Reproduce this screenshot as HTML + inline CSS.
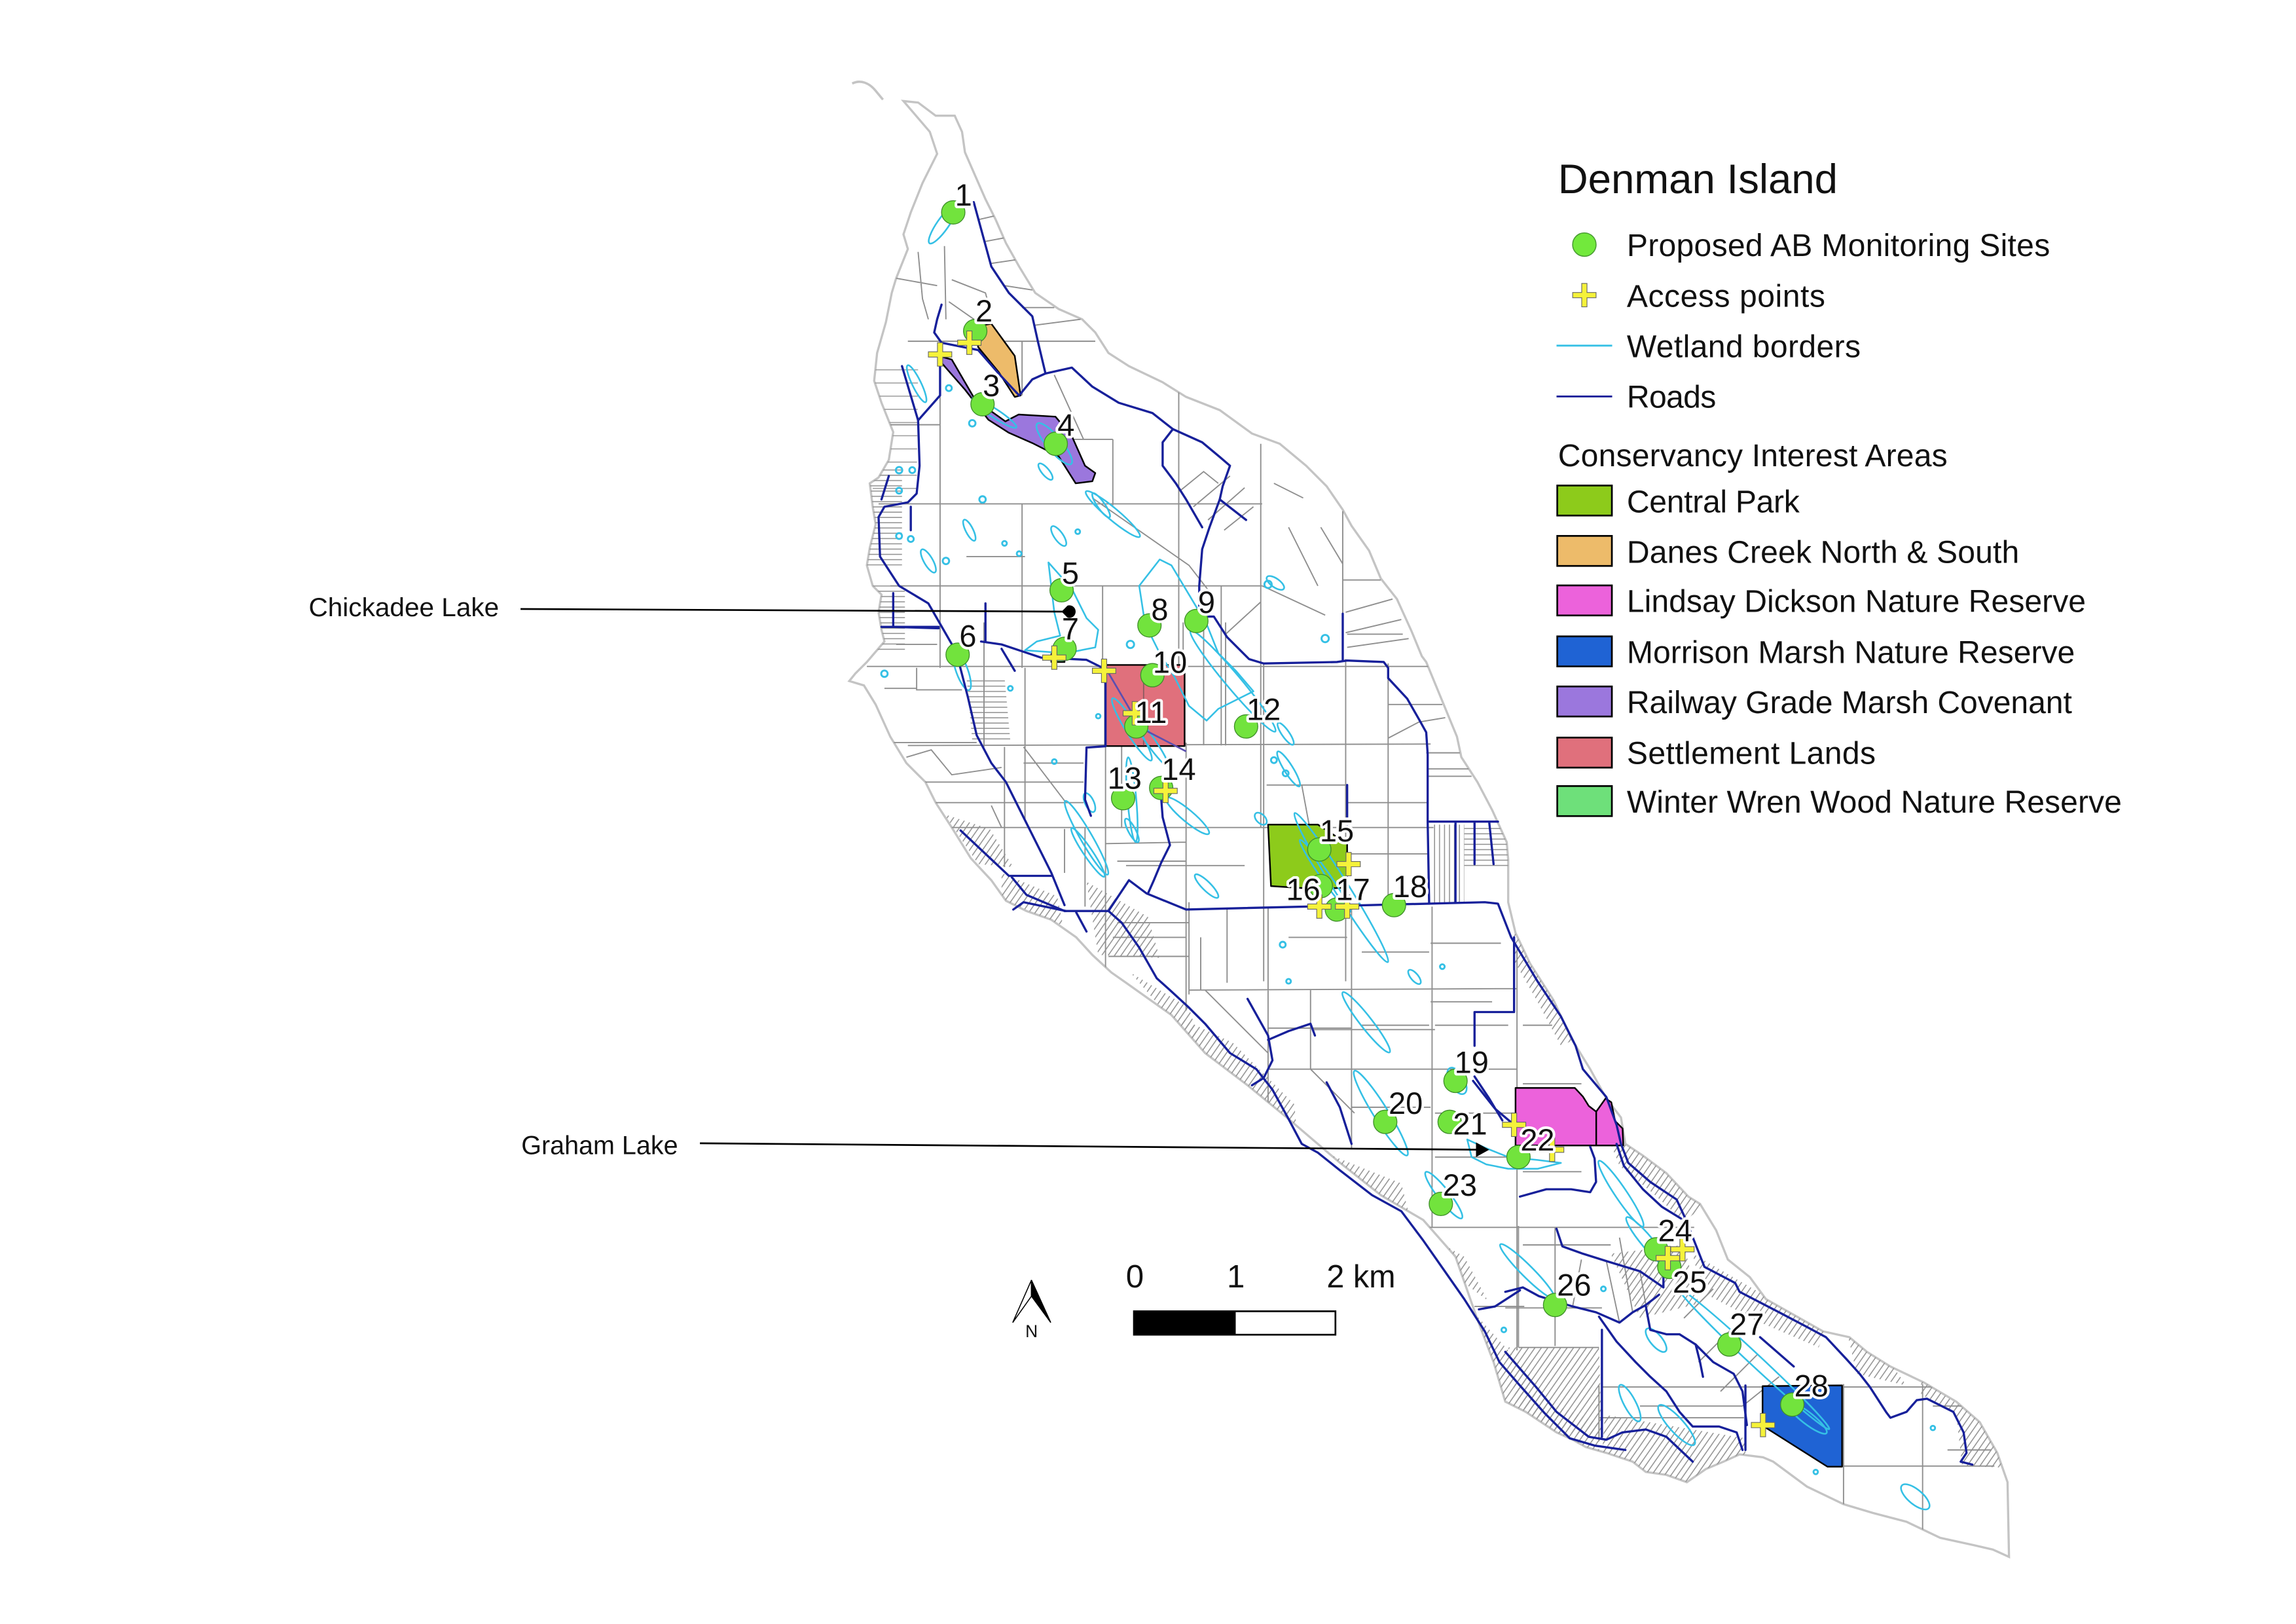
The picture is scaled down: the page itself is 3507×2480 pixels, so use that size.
<!DOCTYPE html>
<html><head><meta charset="utf-8"><style>
html,body{margin:0;padding:0;background:#fff;}
svg{display:block;}
text{font-family:"Liberation Sans",Arial,sans-serif;fill:#111;}
.lbl{font-size:21px;stroke:#fff;stroke-width:3.6px;paint-order:stroke;stroke-linejoin:round;text-anchor:middle;}
</style></head><body>
<svg width="3507" height="2480" viewBox="0 0 1568 1108.82" xmlns="http://www.w3.org/2000/svg">
<defs>
<clipPath id="isl"><path id="islp" d="M617,69 L627,70 L639,79 L652,79 L657,90 L659,104 L666,120 L673,136 L680,150 L687,166 L696,182 L707,200 L723,211 L739,218 L748,227 L757,241 L771,250 L794,261 L810,271 L833,280 L855,296 L874,303 L892,318 L906,332 L917,348 L923,359 L935,376 L943,395 L954,409 L964,431 L971,448 L974,452 L981,469 L988,486 L995,503 L998,517 L1009,534 L1019,553 L1029,575 L1030,587 L1030,606 L1030,616 L1035,637 L1045,658 L1061,683 L1073,709 L1086,730 L1097,750 L1107,763 L1110,781 L1122,789 L1138,801 L1153,817 L1161,822 L1172,840 L1180,860 L1195,872 L1206,887 L1245,909 L1263,913 L1275,923 L1291,933 L1314,944 L1336,957 L1352,971 L1364,992 L1371,1012 L1372,1063 L1361,1058 L1348,1055 L1325,1050 L1302,1039 L1279,1033 L1259,1027 L1234,1015 L1211,998 L1204,995 L1188,993 L1177,998 L1165,1003 L1152,1012 L1138,1007 L1124,1005 L1115,998 L1097,992 L1083,988 L1074,983 L1063,978 L1042,964 L1028,957 L1020,930 L1009,901 L994,858 L972,833 L943,816 L914,793 L880,764 L852,741 L823,719 L800,693 L769,671 L759,664 L746,652 L735,640 L718,628 L701,622 L687,615 L677,601 L663,586 L650,565 L639,548 L632,534 L619,521 L608,503 L598,481 L590,468 L580,465 L584,460 L592,452 L604,438 L602,430 L600,418 L602,406 L596,400 L592,386 L594,374 L598,358 L596,346 L594,330 L600,326 L607,314 L610,295 L602,275 L597,260 L599,241 L605,220 L609,200 L612,190 L620,170 L617,160 L622,145 L630,125 L640,105 L635,90 Z"/></clipPath>
<pattern id="ph" width="6" height="3.6" patternUnits="userSpaceOnUse"><line x1="0" y1="0.5" x2="6" y2="0.5" stroke="#939393" stroke-width="0.7"/></pattern>
<pattern id="pv" width="3.4" height="6" patternUnits="userSpaceOnUse"><line x1="0.5" y1="0" x2="0.5" y2="6" stroke="#939393" stroke-width="0.7"/></pattern>
<pattern id="pd" width="6" height="3.6" patternUnits="userSpaceOnUse" patternTransform="rotate(-55)"><line x1="0" y1="0.5" x2="6" y2="0.5" stroke="#939393" stroke-width="0.7"/></pattern>
<pattern id="ph2" width="10" height="9" patternUnits="userSpaceOnUse"><line x1="0" y1="0.5" x2="10" y2="0.5" stroke="#999" stroke-width="0.7"/></pattern>
</defs>
<rect x="0" y="0" width="1568" height="1108.82" fill="#fff"/>

<!-- island -->
<use href="#islp" fill="#fff" stroke="#c4c4c4" stroke-width="1.5"/>
<path d="M582,57 C588,54 594,57 598,62 L603,68" fill="none" stroke="#c4c4c4" stroke-width="1.6"/>

<!-- hatch areas -->
<g clip-path="url(#isl)" stroke="none">
<polygon fill="url(#ph)" points="590,318 616,318 616,386 588,386"/>
<polygon fill="url(#ph)" points="590,398 618,398 618,446 590,446"/>
<polygon fill="url(#ph)" points="660,462 686,462 690,506 664,506"/>
<polygon fill="url(#ph2)" points="596,252 627,252 626,337 596,337"/>
<polygon fill="url(#pd)" points="645,556 676,566 692,592 668,590"/>
<polygon fill="url(#pd)" points="684,596 722,612 726,632 684,614"/>
<polygon fill="url(#pd)" points="742,602 784,626 792,654 750,652"/>
<polygon fill="url(#pd)" points="772,664 812,688 820,714 798,694"/>
<polygon fill="url(#pd)" points="804,694 842,712 884,754 886,778 850,742 820,720"/>
<polygon fill="url(#pd)" points="878,766 902,786 957,808 962,828 912,802"/>
<polygon fill="url(#pd)" points="958,834 1000,858 1016,888 992,870"/>
<polygon fill="url(#pd)" points="1001,890 1030,922 1060,958 1092,972 1092,998 1060,980 1038,966 1024,955 1016,928 1006,900"/>
<polygon fill="url(#pd)" points="1096,966 1192,982 1192,998 1165,1006 1150,1015 1120,1008 1094,995"/>
<polygon fill="url(#pd)" points="1030,920 1092,920 1094,984 1060,975 1035,958"/>
<polygon fill="url(#pv)" points="978,563 1000,563 1000,617 978,617"/>
<polygon fill="url(#ph)" points="1000,563 1028,563 1032,592 1000,592"/>
<polygon fill="url(#pd)" points="1034,636 1046,656 1062,682 1075,710 1066,714 1050,684 1034,656"/>
<polygon fill="url(#pd)" points="1098,776 1124,788 1155,815 1163,824 1150,834 1128,814 1106,796"/>
<polygon fill="url(#pd)" points="1156,856 1206,885 1247,908 1242,920 1200,902 1162,882"/>
<polygon fill="url(#pd)" points="1262,912 1292,932 1302,946 1268,938"/>
<polygon fill="url(#pd)" points="1312,942 1354,970 1366,992 1368,1002 1340,1001 1336,966 1312,952"/>
<polygon fill="url(#pd)" points="1100,856 1150,850 1160,890 1120,900"/>
</g>

<!-- parcel lines -->
<g clip-path="url(#isl)">
<path fill="none" stroke="#8f8f8f" stroke-width="0.85" d="
M620,233 L748,233 M608,290 L642,290 M600,344 L862,344 M608,400 L862,400 M592,455 L980,455 M620,509 L977,508 M637,565 L979,565
M812,676 L1036,675 M866,730 L1036,730 M959,838 L1157,838 M1028,893 L1094,893 M1037,920 L1092,920 M1094,947 L1330,947 M1258,1001 L1362,1001
M642,234 L642,456 M698,233 L698,270 M698,344 L698,456 M700,456 L700,559 M753,400 L753,456 M805,266 L805,454 M861,303 L861,565
M834,400 L834,509 M810,507 L810,690 M863,453 L863,670 M919,450 L919,670 M917,349 L917,419 M948,453 L948,619 M866,619 L866,781
M923,619 L923,784 M978,619 L978,838 M895,676 L895,730 M1036,648 L1036,922 M1037,837 L1037,920 M1092,946 L1092,984
M1259,945 L1259,1029 M1313,945 L1313,1048 M812,616 L812,679
M746,340 L812,386 L826,404 M806,335 L822,322 L832,330 M815,346 L840,325 M825,355 L850,333 M836,362 L856,346
M668,150 L681,147 M672,165 L688,162 M676,180 L696,177 M686,195 L705,198 M698,210 L720,210 M707,222 L738,218
M645,168 L646,218 M648,206 L668,220 M612,190 L640,195 M650,191 L673,200 L676,211 M627,172 L630,204 L634,218
M626,456 L626,471 L657,471 M609,507 L667,507 M619,517 L636,512 L650,529 L684,524 M629,534 L740,534 M639,548 L740,548
M677,550 L684,565 M699,510 L728,548 M699,521 L740,521 M686,510 L686,592 M672,425 L672,510 M727,566 L727,596
M755,509 L755,661 M838,620 L838,671 M781,454 L781,510 M808,425 L808,455 M822,425 L822,509 M837,425 L837,509
M755,576 L810,575 M769,591 L850,591 M766,509 L766,565 M741,565 L741,619 M763,588 L810,588
M917,396 L943,396 M919,418 L951,409 M919,432 L957,423 M920,442 L962,436 M948,504 L969,493 L987,490
M974,514 L997,514 M975,525 L1003,525 M975,530 L1005,530 M865,536 L920,536 M920,548 L975,548 M920,583 L976,583 M889,536 L894,563
M837,433 L861,411 M948,481 L985,481 M920,433 L958,433
M763,630 L812,630 M757,653 L812,653 M866,702 L923,702 M897,703 L980,703 M977,684 L1019,684 M923,756 L977,756
M977,644 L1025,644 M823,676 L866,719 M895,730 L925,760
M1097,861 L1106,903 M1106,845 L1115,896 M1120,868 L1124,891 M1074,892 L1080,860 M1150,900 L1170,880 M1160,930 L1185,905
M1175,950 L1200,925 M1190,960 L1215,940 M1313,947 L1345,947 M1062,838 L1062,919 M1007,892 L1041,892 M1092,968 L1191,968
M862,400 L905,420 M880,360 L900,400 M870,330 L890,340 M902,360 L917,385
M700,300 L760,300 M760,300 L760,345 M660,380 L700,380 M720,256 L740,300
M612,440 L640,440 M604,470 L626,470 M760,640 L810,640 M820,640 L820,676
M880,640 L920,640 M930,650 L976,650 M930,700 L976,700 M980,700 L1030,700 M980,760 L1036,760 M980,790 L1040,790
M1040,700 L1060,700 M1040,740 L1080,740 M1040,800 L1080,800 M1040,850 L1100,850 M1120,960 L1190,960
M1320,960 L1350,960 M1330,990 L1360,990"/>
</g>

<!-- conservancy polygons -->
<g stroke="#000" stroke-width="1.1" stroke-linejoin="round">
<polygon fill="#edbb6a" points="666,223 677,221 693,243 697,270 693,271 682,254 668,237"/>
<polygon fill="#9b77dd" points="641,243 650,245.5 666,273 686.6,287.7 695.7,283 720.8,284.5 732,297.8 741,318 748,323 746,328.6 734.6,330 723,311.6 705,302.5 689,295.5 675,286.6 659,266 643,247.7"/>
<rect x="754.7" y="454" width="54.3" height="55.4" fill="#e0707c"/>
<polygon fill="#8dcb1b" points="866,563 900,563 920,576 920,606 900,607 868,605"/>
<polygon fill="#ec62db" points="1035,742.8 1075.5,742.8 1081,748.7 1085,755.1 1090.1,759 1096.5,750 1100.4,752.6 1103,765.4 1108.1,770.5 1108.6,782.1 1035,782.1"/>
<path d="M1090.1,759 L1090.1,782" fill="none"/>
<polygon fill="#1f63d4" points="1203.7,946.4 1258,945.9 1258,1001.4 1248,1001.4 1203.7,973.4"/>
<rect x="718" y="446.5" width="9" height="5.5" fill="#6ee07a"/>
</g>
<path d="M781,455 L781,509" stroke="#8a5a60" stroke-width="0.8"/>

<!-- wetlands -->
<g fill="none" stroke="#35c0e5" stroke-width="1.15" stroke-linejoin="round">
<ellipse cx="644" cy="153" rx="16" ry="4" transform="rotate(-55 644 153)"/>
<ellipse cx="626" cy="262" rx="14" ry="3" transform="rotate(64 626 262)"/>
<ellipse cx="679" cy="282" rx="18" ry="3" transform="rotate(33 679 282)"/>
<ellipse cx="720" cy="303" rx="18" ry="5" transform="rotate(50 720 303)"/>
<ellipse cx="714" cy="322" rx="7" ry="2.5" transform="rotate(50 714 322)"/>
<ellipse cx="760" cy="351" rx="24" ry="4" transform="rotate(40 760 351)"/>
<ellipse cx="752" cy="345" rx="10" ry="2.5" transform="rotate(55 752 345)"/>
<ellipse cx="662" cy="362" rx="8" ry="2.5" transform="rotate(63 662 362)"/>
<ellipse cx="723" cy="366" rx="8" ry="3" transform="rotate(55 723 366)"/>
<ellipse cx="634" cy="383" rx="9" ry="3" transform="rotate(60 634 383)"/>
<ellipse cx="871" cy="398" rx="7" ry="3" transform="rotate(35 871 398)"/>
<polygon points="716,384 732,402 742,422 750,430 748,442 728,446 700,444 708,438 724,434 720,418"/>
<polygon points="778,400 792,382 800,386 812,406 824,426 832,446 844,458 856,472 832,484 824,492 812,482 802,462 792,446 782,426"/>
<ellipse cx="842" cy="465" rx="45" ry="5" transform="rotate(50 842 465)"/>
<ellipse cx="878" cy="501" rx="9" ry="2.5" transform="rotate(55 878 501)"/>
<ellipse cx="773" cy="498" rx="25" ry="4" transform="rotate(58 773 498)"/>
<ellipse cx="785" cy="505" rx="22" ry="3" transform="rotate(55 785 505)"/>
<ellipse cx="657" cy="458" rx="14" ry="4" transform="rotate(70 657 458)"/>
<ellipse cx="773" cy="546" rx="29" ry="3" transform="rotate(85 773 546)"/>
<ellipse cx="742" cy="572" rx="29" ry="4" transform="rotate(60 742 572)"/>
<ellipse cx="811" cy="557" rx="19" ry="4" transform="rotate(40 811 557)"/>
<ellipse cx="880" cy="525" rx="14" ry="3" transform="rotate(58 880 525)"/>
<ellipse cx="916" cy="606" rx="60" ry="5" transform="rotate(58 916 606)"/>
<ellipse cx="905" cy="598" rx="30" ry="3" transform="rotate(55 905 598)"/>
<ellipse cx="744" cy="548" rx="7" ry="3" transform="rotate(65 744 548)"/>
<ellipse cx="824" cy="605" rx="11" ry="3" transform="rotate(45 824 605)"/>
<ellipse cx="861" cy="559" rx="5" ry="3" transform="rotate(45 861 559)"/>
<ellipse cx="743" cy="582" rx="20" ry="3" transform="rotate(56 743 582)"/>
<ellipse cx="773" cy="567" rx="9" ry="2.5" transform="rotate(62 773 567)"/>
<ellipse cx="933" cy="698" rx="26" ry="4" transform="rotate(52 933 698)"/>
<ellipse cx="943" cy="760" rx="34" ry="5" transform="rotate(58 943 760)"/>
<ellipse cx="966" cy="667" rx="6" ry="2.5" transform="rotate(50 966 667)"/>
<ellipse cx="995" cy="738" rx="10" ry="5" transform="rotate(60 995 738)"/>
<polygon points="1002,778 1015,784 1030,790 1050,792 1066,794 1050,798 1030,798 1015,795 1005,790"/>
<ellipse cx="986" cy="816" rx="20" ry="4" transform="rotate(52 986 816)"/>
<ellipse cx="1043" cy="868" rx="26" ry="4" transform="rotate(45 1043 868)"/>
<ellipse cx="1107" cy="815" rx="27" ry="4" transform="rotate(56 1107 815)"/>
<ellipse cx="1125" cy="848" rx="22" ry="4" transform="rotate(50 1125 848)"/>
<ellipse cx="1198" cy="928" rx="70" ry="4" transform="rotate(43 1198 928)"/>
<ellipse cx="1113" cy="958" rx="14" ry="4" transform="rotate(62 1113 958)"/>
<ellipse cx="1145" cy="973" rx="18" ry="5" transform="rotate(48 1145 973)"/>
<ellipse cx="1131" cy="915" rx="10" ry="4" transform="rotate(50 1131 915)"/>
<ellipse cx="1234" cy="968" rx="17" ry="4" transform="rotate(38 1234 968)"/>
<ellipse cx="1308" cy="1022" rx="12" ry="5" transform="rotate(40 1308 1022)"/>
<g stroke-width="1.3">
<circle cx="664" cy="289" r="2.2"/><circle cx="671" cy="341" r="2.2"/><circle cx="614" cy="366" r="2"/><circle cx="622" cy="368" r="2"/>
<circle cx="614" cy="321" r="2.2"/><circle cx="623" cy="321" r="2"/><circle cx="614" cy="335" r="2"/><circle cx="646" cy="383" r="2.2"/>
<circle cx="648" cy="265" r="2"/><circle cx="686" cy="371" r="1.6"/><circle cx="696" cy="378" r="1.6"/><circle cx="736" cy="363" r="1.6"/>
<circle cx="604" cy="460" r="2.2"/><circle cx="772" cy="440" r="2.5"/><circle cx="866" cy="399" r="2.5"/><circle cx="905" cy="436" r="2.5"/>
<circle cx="750" cy="489" r="1.5"/><circle cx="870" cy="519" r="2"/><circle cx="878" cy="528" r="2"/><circle cx="876" cy="645" r="2"/>
<circle cx="880" cy="670" r="1.6"/><circle cx="985" cy="660" r="1.6"/><circle cx="1027" cy="908" r="1.6"/><circle cx="1095" cy="880" r="1.6"/>
<circle cx="1240" cy="1005" r="1.5"/><circle cx="1320" cy="975" r="1.5"/><circle cx="690" cy="470" r="1.6"/><circle cx="720" cy="520" r="1.6"/>
</g>
</g>

<!-- roads -->
<g fill="none" stroke="#17209a" stroke-width="1.5" stroke-linejoin="round" stroke-linecap="round">
<path d="M665,138 L677,182 L689,200 L705,216 L709,234 L714,255"/>
<path d="M696,270 L705,259 L714,255 L732,251 L746,264 L764,275 L787,282 L801,293 L821,302 L833,312 L840,318 L835,332 L833,341 L826,360 L821,375 L819,400 L819,421 L829,421 L838,435 L853,450 L863,453 L913,452 L920,451 L945,452 L948,456 L948,463 L961,477 L969,491 L974,500 L975,515 L975,561 L976,617"/>
<path d="M801,293 L794,302 L794,318 L803,330 L810,341 L821,360"/>
<path d="M833,341 L851,355"/>
<path d="M696,270 L682,255 L668,239 L643,234 L638,227 L640,218 L643,208"/>
<path d="M642,243 L642,270 L627,287 L628,318 L626,337 L620,343 L604,346 L600,353 L601,380 L614,400 L634,412 L653,445 L661,476 L667,502 L677,521 L687,534 L701,562 L718,596 L727,618"/>
<path d="M727,622 L757,622 L766,630 L778,647 L790,668 L799,676 L812,688 L823,699 L840,719 L858,730 L869,744 L880,764 L889,781 L900,787 L915,799 L937,816 L957,827 L972,847 L986,867 L1000,887 L1014,909 L1024,930 L1038,946 L1055,965 L1072,982 L1089,987 L1110,990"/>
<path d="M616,250 L627,287"/>
<path d="M622,346 L622,362"/>
<path d="M607,325 L602,341"/>
<path d="M757,622 L771,601 L783,610 L810,621 L850,620 L935,618 L1014,616 L1023,617 L1032,640 L1050,670 L1066,694 L1076,714 L1081,730 L1097,749 L1104,768 L1107,781 L1112,794 L1127,807 L1145,819 L1151,832 L1164,865 L1185,876 L1188,882 L1215,896 L1234,906 L1247,913 L1261,928 L1270,938 L1277,947 L1288,964 L1291,968 L1302,964 L1309,956 L1316,955 L1334,964 L1341,978 L1343,992 L1339,998 L1347,1000"/>
<path d="M610,405 L610,428 L641,429"/>
<path d="M602,428 L641,428"/>
<path d="M673,412 L673,438"/>
<path d="M670,438 L684,440 L699,445 L711,449 L742,450.5 L755,457"/>
<path d="M684,443 L693,458"/>
<path d="M755,466 L755,509.5 L742,510.4 L741,546 L745,557"/>
<path d="M793,545 L794,558 L799,577 L793,589 L788,601 L784,610"/>
<path d="M917,419 L917,451"/>
<path d="M920,536 L920,563"/>
<path d="M976,561 L1023,561 M994,561 L994,616 M1007,561 L1007,590 M1017,561 L1020,590"/>
<path d="M1034,640 L1034,691 L1007,691 L1007,714"/>
<path d="M1007,735 L1017,750 L1026,765"/>
<path d="M1086,783 L1089,791 L1090,807 L1086,814 L1073,812 L1056,812 L1038,817"/>
<path d="M1104,781 L1109,796 L1122,812 L1135,824 L1148,832"/>
<path d="M1006,738 L1021,757 L1034,768"/>
<path d="M852,682 L866,707 L869,724 L863,736 L855,741"/>
<path d="M866,710 L880,704 L895,699 L898,707"/>
<path d="M906,739 L915,756 L923,781"/>
<path d="M656,567 L689,598 L718,598"/>
<path d="M691,599 L701,611 L727,622"/>
<path d="M692,621 L699,616 L728,622"/>
<path d="M735,623 L742,636"/>
<path d="M1063,839 L1067,851 L1081,856 L1097,861 L1120,868 L1136,879 L1136,870"/>
<path d="M1028,882 L1040,879 L1051,885 L1074,892 L1090,896 L1106,903 L1115,896 L1124,891 L1133,884"/>
<path d="M1038,881 L1021,892 L1010,894"/>
<path d="M1092,899 L1104,916 L1117,930 L1127,940 L1138,950 L1147,964 L1156,974 L1174,974 L1186,978 L1190,990"/>
<path d="M1124,892 L1127,908 L1138,911 L1147,911 L1158,918 L1170,930 L1184,938 L1190,950 L1193,973"/>
<path d="M1094,908 L1094,981"/>
<path d="M1028,923 L1049,947 L1063,964 L1085,981 L1097,983 L1108,978 L1124,976 L1138,981 L1156,998"/>
<path d="M1158,918 L1161,930 L1163,940"/>
<path d="M1202,913 L1225,933"/>
<path d="M1192,946 L1192,990"/>
</g>
<path d="M755,456 L779,497 L810,513" fill="none" stroke="#5b4fb0" stroke-width="1.2"/>

<!-- sites -->
<g fill="#72e33d" stroke="#3f8f2a" stroke-width="0.6">
<circle cx="651" cy="145" r="8"/><circle cx="666" cy="226" r="8"/><circle cx="671" cy="276" r="8"/><circle cx="721" cy="303" r="8"/>
<circle cx="725" cy="403" r="8"/><circle cx="654" cy="447" r="8"/><circle cx="727" cy="443" r="8"/><circle cx="785" cy="427" r="8"/>
<circle cx="817" cy="424" r="8"/><circle cx="787" cy="461" r="8"/><circle cx="776" cy="496" r="8"/><circle cx="851" cy="496" r="8"/>
<circle cx="767" cy="545" r="8"/><circle cx="793" cy="538" r="8"/><circle cx="901" cy="580" r="8"/><circle cx="902" cy="605" r="8"/>
<circle cx="913" cy="621" r="8"/><circle cx="952" cy="618" r="8"/><circle cx="994" cy="738" r="8"/><circle cx="946" cy="766" r="8"/>
<circle cx="990" cy="766" r="8"/><circle cx="1037" cy="790" r="8"/><circle cx="984" cy="822" r="8"/><circle cx="1131" cy="853" r="8"/>
<circle cx="1140" cy="865" r="8"/><circle cx="1062" cy="891" r="8"/><circle cx="1181" cy="918" r="8"/><circle cx="1224" cy="959" r="8"/>
</g>

<!-- access points -->
<g fill="#f5f23a" stroke="#666" stroke-width="0.5">
<path d="M654,232.2 h6.2 v-6.2 h3.6 v6.2 h6.2 v3.6 h-6.2 v6.2 h-3.6 v-6.2 h-6.2 z"/>
<path d="M634,240.2 h6.2 v-6.2 h3.6 v6.2 h6.2 v3.6 h-6.2 v6.2 h-3.6 v-6.2 h-6.2 z"/>
<path d="M712,447.2 h6.2 v-6.2 h3.6 v6.2 h6.2 v3.6 h-6.2 v6.2 h-3.6 v-6.2 h-6.2 z"/>
<path d="M746,456.2 h6.2 v-6.2 h3.6 v6.2 h6.2 v3.6 h-6.2 v6.2 h-3.6 v-6.2 h-6.2 z"/>
<path d="M767,485.2 h6.2 v-6.2 h3.6 v6.2 h6.2 v3.6 h-6.2 v6.2 h-3.6 v-6.2 h-6.2 z"/>
<path d="M788,538.2 h6.2 v-6.2 h3.6 v6.2 h6.2 v3.6 h-6.2 v6.2 h-3.6 v-6.2 h-6.2 z"/>
<path d="M913,588.2 h6.2 v-6.2 h3.6 v6.2 h6.2 v3.6 h-6.2 v6.2 h-3.6 v-6.2 h-6.2 z"/>
<path d="M893,617.2 h6.2 v-6.2 h3.6 v6.2 h6.2 v3.6 h-6.2 v6.2 h-3.6 v-6.2 h-6.2 z"/>
<path d="M912,617.2 h6.2 v-6.2 h3.6 v6.2 h6.2 v3.6 h-6.2 v6.2 h-3.6 v-6.2 h-6.2 z"/>
<path d="M1026,766.2 h6.2 v-6.2 h3.6 v6.2 h6.2 v3.6 h-6.2 v6.2 h-3.6 v-6.2 h-6.2 z"/>
<path d="M1052,783.2 h6.2 v-6.2 h3.6 v6.2 h6.2 v3.6 h-6.2 v6.2 h-3.6 v-6.2 h-6.2 z"/>
<path d="M1141,851.2 h6.2 v-6.2 h3.6 v6.2 h6.2 v3.6 h-6.2 v6.2 h-3.6 v-6.2 h-6.2 z"/>
<path d="M1131,857.2 h6.2 v-6.2 h3.6 v6.2 h6.2 v3.6 h-6.2 v6.2 h-3.6 v-6.2 h-6.2 z"/>
<path d="M1196,971.2 h6.2 v-6.2 h3.6 v6.2 h6.2 v3.6 h-6.2 v6.2 h-3.6 v-6.2 h-6.2 z"/>
</g>

<!-- site labels -->
<g>
<text class="lbl" x="658" y="140.5">1</text>
<text class="lbl" x="672" y="219.5">2</text>
<text class="lbl" x="677" y="270.5">3</text>
<text class="lbl" x="728" y="297.5">4</text>
<text class="lbl" x="731" y="398.5">5</text>
<text class="lbl" x="661" y="441.5">6</text>
<text class="lbl" x="731" y="436.5">7</text>
<text class="lbl" x="792" y="423.5">8</text>
<text class="lbl" x="824" y="418.5">9</text>
<text class="lbl" x="799" y="459.5">10</text>
<text class="lbl" x="786" y="493.5">11</text>
<text class="lbl" x="863" y="491.5">12</text>
<text class="lbl" x="768" y="538.5">13</text>
<text class="lbl" x="805" y="532.5">14</text>
<text class="lbl" x="913" y="574.5">15</text>
<text class="lbl" x="890" y="614.5">16</text>
<text class="lbl" x="924" y="614.5">17</text>
<text class="lbl" x="963" y="612.5">18</text>
<text class="lbl" x="1005" y="732.5">19</text>
<text class="lbl" x="960" y="760.5">20</text>
<text class="lbl" x="1004" y="774.5">21</text>
<text class="lbl" x="1050" y="785.5">22</text>
<text class="lbl" x="997" y="816.5">23</text>
<text class="lbl" x="1144" y="847.5">24</text>
<text class="lbl" x="1154" y="882.5">25</text>
<text class="lbl" x="1075" y="884.5">26</text>
<text class="lbl" x="1193" y="911.5">27</text>
<text class="lbl" x="1237" y="953.5">28</text>
</g>

<!-- lake callouts -->
<line x1="355.5" y1="415.8" x2="727" y2="417.6" stroke="#000" stroke-width="1.2"/>
<path d="M725,417.6 L729,413.5 A4.3,4.3 0 1 1 729,421.7 Z" fill="#000"/>
<text x="210.8" y="420.7" font-size="18" textLength="130" lengthAdjust="spacingAndGlyphs">Chickadee Lake</text>
<line x1="478" y1="780.6" x2="1012" y2="785" stroke="#000" stroke-width="1.2"/>
<path d="M1008,780 L1017,785 L1008,790 Z" fill="#000"/>
<text x="356" y="788" font-size="18" textLength="107" lengthAdjust="spacingAndGlyphs">Graham Lake</text>

<!-- north arrow -->
<polygon points="704.4,874 691.6,903 704.4,885" fill="#fff" stroke="#000" stroke-width="0.7"/>
<polygon points="704.4,874 717.6,903 704.4,885" fill="#000" stroke="#000" stroke-width="0.7"/>
<text x="704.5" y="913" font-size="12" text-anchor="middle" textLength="8.5" lengthAdjust="spacingAndGlyphs">N</text>

<!-- scale bar -->
<text x="775" y="879" font-size="22" text-anchor="middle">0</text>
<text x="844" y="879" font-size="22" text-anchor="middle">1</text>
<text x="906" y="879" font-size="22" textLength="47" lengthAdjust="spacingAndGlyphs">2 km</text>
<rect x="774.4" y="895.3" width="137.6" height="16" fill="#fff" stroke="#000" stroke-width="1.2"/>
<rect x="774.4" y="895.3" width="69.5" height="16" fill="#000"/>

<!-- legend -->
<text x="1064" y="131.8" font-size="28" textLength="191" lengthAdjust="spacingAndGlyphs">Denman Island</text>
<circle cx="1082" cy="167" r="8" fill="#72e93c" stroke="#4a9c34" stroke-width="0.7"/>
<path d="M1074,199.7 h6.2 v-6.2 h3.6 v6.2 h6.2 v3.6 h-6.2 v6.2 h-3.6 v-6.2 h-6.2 z" fill="#f5f23a" stroke="#666" stroke-width="0.5"/>
<line x1="1063" y1="236" x2="1101" y2="236" stroke="#35c0e5" stroke-width="1.3"/>
<line x1="1063" y1="270.7" x2="1101" y2="270.7" stroke="#17209a" stroke-width="1.3"/>
<g font-size="21.5">
<text x="1111" y="174.8" textLength="289">Proposed AB Monitoring Sites</text>
<text x="1111" y="209.5" textLength="135.5">Access points</text>
<text x="1111" y="243.8" textLength="159.7">Wetland borders</text>
<text x="1111" y="278.3" textLength="61">Roads</text>
<text x="1064" y="318.4" textLength="266">Conservancy Interest Areas</text>
<text x="1111" y="349.8" textLength="118">Central Park</text>
<text x="1111" y="384.2" textLength="268">Danes Creek North &amp; South</text>
<text x="1111" y="417.8" textLength="313.5">Lindsay Dickson Nature Reserve</text>
<text x="1111" y="452.6" textLength="306">Morrison Marsh Nature Reserve</text>
<text x="1111" y="486.8" textLength="304">Railway Grade Marsh Covenant</text>
<text x="1111" y="521.5" textLength="170">Settlement Lands</text>
<text x="1111" y="554.8" textLength="338">Winter Wren Wood Nature Reserve</text>
</g>
<g stroke="#000" stroke-width="1.2">
<rect x="1063.5" y="331.5" width="37.3" height="20.5" fill="#8dcb1b"/>
<rect x="1063.5" y="365.9" width="37.3" height="20.5" fill="#edbb6a"/>
<rect x="1063.5" y="399.7" width="37.3" height="20.5" fill="#ec62db"/>
<rect x="1063.5" y="434.5" width="37.3" height="20.5" fill="#1f63d4"/>
<rect x="1063.5" y="468.7" width="37.3" height="20.5" fill="#9b77dd"/>
<rect x="1063.5" y="503.6" width="37.3" height="20.5" fill="#e0707c"/>
<rect x="1063.5" y="536.7" width="37.3" height="20.5" fill="#6ee07a"/>
</g>
</svg>
</body></html>
